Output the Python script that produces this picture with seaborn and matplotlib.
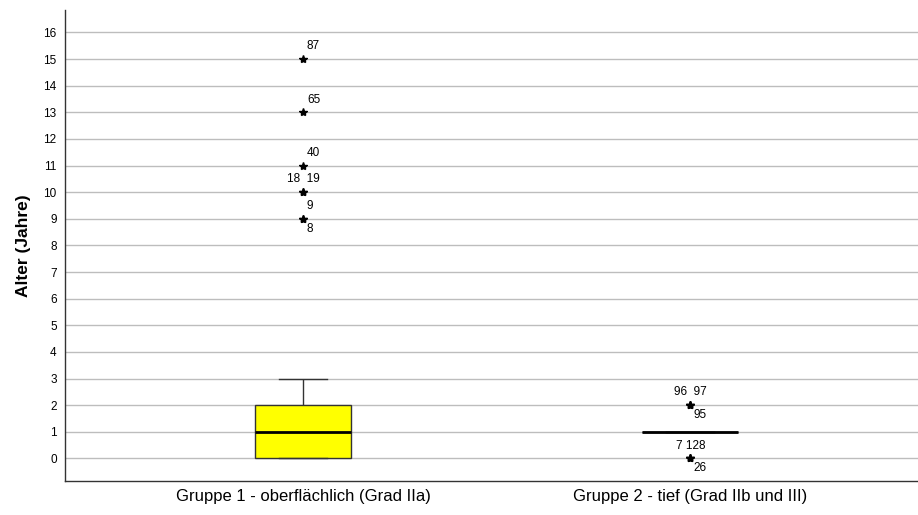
import numpy as np
import pandas as pd
import seaborn as sns
import matplotlib.pyplot as plt

# ages (years) and how many cases have each age, per group
groups = ["Gruppe 1 - oberflächlich (Grad IIa)", "Gruppe 2 - tief (Grad IIb und III)"]
ages_g1 = [0, 1, 2, 3, 9, 10, 11, 13, 15]
counts_g1 = [25, 25, 20, 8, 2, 2, 1, 1, 1]
ages_g2 = [0, 1, 2]
counts_g2 = [3, 30, 3]

# outlier case numbers: (group index, age, label above, label below)
outlier_labels = [
    (0, 15, "87", ""),
    (0, 13, "65", ""),
    (0, 11, "40", ""),
    (0, 10, "18  19", ""),
    (0, 9, "9", "8"),
    (1, 2, "96  97", "95"),
    (1, 0, "7 128", "26"),
]

rows = []
for g, ages, counts in [(groups[0], ages_g1, counts_g1), (groups[1], ages_g2, counts_g2)]:
    for a, c in zip(ages, counts):
        rows += [(g, a)] * c
df = pd.DataFrame(rows, columns=["Gruppe", "Alter"])

plt.rcParams['font.family'] = ['Liberation Sans', 'DejaVu Sans']

fig = plt.figure(figsize=(9.18, 5.15), dpi=100)
ax = fig.add_axes([0.0708, 0.066, 0.9292, 0.915])

ax.set_axisbelow(True)
ax.yaxis.grid(True, color='#bdbdbd', linewidth=1)

sns.boxplot(data=df, x="Gruppe", y="Alter", order=groups, ax=ax,
            color="#ffff00", saturation=1, width=0.25, whis=1.5,
            linecolor="#333333", linewidth=1,
            medianprops={"color": "black", "linewidth": 2},
            flierprops={"marker": "*", "markerfacecolor": "black",
                        "markeredgecolor": "black", "markersize": 6})

for gi, age, above, below in outlier_labels:
    if above:
        if " " in above:
            ax.text(gi + 0.002, age + 0.25, above, fontsize=8.5, ha="center", va="bottom")
        else:
            ax.text(gi + 0.01, age + 0.25, above, fontsize=8.5, ha="left", va="bottom")
    if below:
        ax.text(gi + 0.01, age - 0.15, below, fontsize=8.5, ha="left", va="top")

ax.set_xlim(-0.615, 1.589)
ax.set_ylim(-0.85, 16.85)
ax.set_yticks(range(0, 17))
ax.tick_params(axis='y', length=0, labelsize=8.5, pad=6)
ax.tick_params(axis='x', length=0, labelsize=12, pad=6)
ax.set_xlabel("")
ax.set_ylabel("Alter (Jahre)", fontsize=12.5, fontweight="bold", labelpad=9)

for s in ["top", "right"]:
    ax.spines[s].set_visible(False)
for s in ["left", "bottom"]:
    ax.spines[s].set_color("#333333")
    ax.spines[s].set_linewidth(1)

fig.savefig("out.png", dpi=100)
